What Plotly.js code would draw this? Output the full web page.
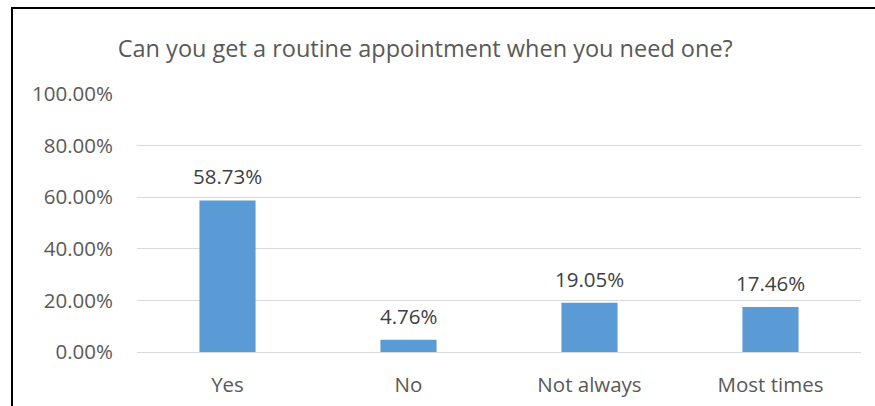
<!DOCTYPE html>
<html><head><meta charset="utf-8">
<script src="https://cdn.plot.ly/plotly-3.0.1.min.js"></script>
<style>
html,body{margin:0;padding:0;background:#fff;overflow:hidden;}
#frame{position:absolute;left:11px;top:7px;width:900px;height:420px;border-left:2px solid #000;border-top:2px solid #000;box-sizing:border-box;}
#chart{position:absolute;left:0;top:0;width:875px;height:406px;}
</style></head>
<body>
<div id="chart"></div>
<div id="frame"></div>
<script>
const categories = ["Yes", "No", "Not always", "Most times"];
const values = [0.5873, 0.0476, 0.1905, 0.1746];
const tickVals = [0, 0.2, 0.4, 0.6, 0.8, 1.0];
const titleText = "Can you get a routine appointment when you need one?";

const fontFam = "Open Sans, Noto Sans, sans-serif";
const trace = {
  type: "bar",
  x: categories,
  y: values,
  marker: {color: "#5b9bd5"},
  hoverinfo: "none"
};
const annotations = categories.map((c, i) => ({
  x: c, y: values[i], xref: "x", yref: "y",
  text: (values[i] * 100).toFixed(2) + "%",
  showarrow: false, yanchor: "bottom", yshift: 8,
  font: {family: fontFam, size: 20.5, color: "#404040"}
}));
const layout = {
  width: 875, height: 406,
  margin: {l: 137, r: 14, t: 94, b: 54},
  paper_bgcolor: "rgba(0,0,0,0)", plot_bgcolor: "rgba(0,0,0,0)",
  bargap: 0.69,
  showlegend: false,
  title: {text: titleText, x: 0.486, xref: "container", xanchor: "center", y: 0.88, yref: "container", yanchor: "middle",
    font: {family: fontFam, size: 23.5, color: "#595959"}},
  xaxis: {type: "category", showgrid: false, showline: false, zeroline: false, ticks: "",
    ticklabelstandoff: 18,
    tickfont: {family: fontFam, size: 20.5, color: "#595959"}},
  yaxis: {range: [0, 1], tickvals: tickVals, tickformat: ".2%", showgrid: true, gridcolor: "#d9d9d9", gridwidth: 1,
    zeroline: true, zerolinecolor: "#d9d9d9", zerolinewidth: 1, showline: false, ticks: "",
    ticklabelstandoff: 23,
    tickfont: {family: fontFam, size: 20.5, color: "#595959"}},
  annotations: annotations
};
Plotly.newPlot("chart", [trace], layout, {staticPlot: true, displayModeBar: false});
</script>
</body></html>
